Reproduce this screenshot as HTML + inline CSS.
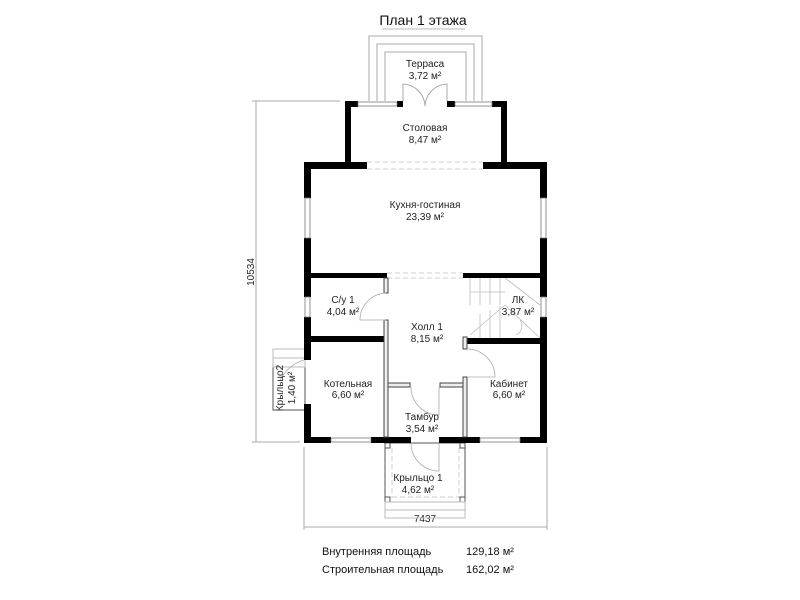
<!DOCTYPE html>
<html><head><meta charset="utf-8"><style>
html,body{margin:0;padding:0;background:#fff;}
svg{display:block;font-family:"Liberation Sans","DejaVu Sans",sans-serif;}
</style></head><body>
<svg width="800" height="600" viewBox="0 0 800 600" xmlns="http://www.w3.org/2000/svg">
<rect width="800" height="600" fill="#fff"/>
<!-- title -->
<text x="423" y="25" font-size="14" text-anchor="middle" fill="#111">План 1 этажа</text>
<line x1="382" y1="29" x2="465" y2="29" stroke="#bbb" stroke-width="1"/>

<!-- terrace -->
<g fill="none" stroke="#aaa" stroke-width="1">
<polyline points="369,101 369,36 482,36 482,101"/>
<polyline points="377,101 377,44 474,44 474,101"/>
<polyline points="385,101 385,52 466,52 466,101"/>
<path d="M403,101 L403,84 A23,23 0 0 1 425,106"/>
<path d="M447,101 L447,84 A23,23 0 0 0 425,106"/>
</g>
<!-- dimension lines -->
<g stroke="#aaa" stroke-width="1" fill="none">
<line x1="256" y1="101" x2="256" y2="442"/>
<line x1="252" y1="101" x2="340" y2="101"/>
<line x1="252" y1="442" x2="300" y2="442"/>
<line x1="304" y1="527" x2="547" y2="527"/>
<line x1="304" y1="447" x2="304" y2="530"/>
<line x1="547" y1="447" x2="547" y2="530"/>
</g>
<text x="254" y="272" font-size="10" fill="#222" text-anchor="middle" transform="rotate(-90 254 272)">10534</text>
<text x="425" y="522" font-size="10" fill="#222" text-anchor="middle">7437</text>

<!-- stairs -->
<g stroke="#bbb" stroke-width="0.8" fill="none">
<line x1="470" y1="278" x2="470" y2="305"/>
<line x1="480" y1="278" x2="480" y2="305"/>
<line x1="490" y1="278" x2="490" y2="305"/>
<line x1="500" y1="278" x2="500" y2="305"/>
<line x1="470" y1="292" x2="505" y2="292"/>
<line x1="505" y1="278" x2="540" y2="305"/>
<line x1="505" y1="305" x2="470" y2="335"/>
<line x1="480" y1="314" x2="480" y2="338"/>
<line x1="490" y1="310" x2="490" y2="338"/>
<line x1="500" y1="306" x2="500" y2="338"/>
<line x1="505" y1="305" x2="540" y2="338"/>
<path d="M520,320 A10,10 0 0 1 516,335"/>
</g>

<!-- dashed openings -->
<g stroke="#ccc" stroke-width="1" stroke-dasharray="5,3" fill="none">
<line x1="367" y1="162" x2="483" y2="162"/>
<line x1="367" y1="169" x2="483" y2="169"/>
<line x1="387" y1="273" x2="463" y2="273"/>
<line x1="387" y1="278" x2="463" y2="278"/>
<line x1="392" y1="448" x2="392" y2="498"/>
<line x1="459" y1="448" x2="459" y2="498"/>
<line x1="392" y1="497" x2="459" y2="497"/>
</g>

<!-- porch 1 -->
<g stroke="#555" stroke-width="1" fill="none">
<rect x="385" y="443" width="80" height="59"/>
<rect x="385" y="443" width="5" height="5"/>
<rect x="460" y="443" width="5" height="5"/>
<rect x="385" y="497" width="5" height="5"/>
<rect x="460" y="497" width="5" height="5"/>
</g>
<g stroke="#bbb" stroke-width="1" fill="none">
<rect x="385" y="502" width="80" height="8"/>
<rect x="385" y="510" width="80" height="8"/>
</g>
<!-- porch 2 -->
<rect x="273" y="367" width="32" height="43" fill="#fff" stroke="#555" stroke-width="1"/>
<g stroke="#bbb" stroke-width="1" fill="none">
<rect x="273" y="349" width="32" height="9"/>
<rect x="273" y="358" width="32" height="9"/>
</g>

<!-- walls -->
<g fill="#000">
<!-- dining -->
<rect x="345" y="101" width="6" height="66"/>
<rect x="501" y="101" width="6" height="66"/>
<rect x="345" y="101" width="13" height="6"/>
<rect x="397" y="101" width="6" height="6"/>
<rect x="447" y="101" width="8" height="6"/>
<rect x="492" y="101" width="15" height="6"/>
<!-- kitchen top -->
<rect x="304" y="162" width="63" height="7"/>
<rect x="483" y="162" width="64" height="7"/>
<!-- left outer -->
<rect x="304" y="162" width="7" height="36"/>
<rect x="304" y="238" width="7" height="59"/>
<rect x="304" y="317" width="7" height="43"/>
<rect x="304" y="404" width="7" height="39"/>
<!-- right outer -->
<rect x="540" y="162" width="7" height="36"/>
<rect x="540" y="238" width="7" height="59"/>
<rect x="540" y="317" width="7" height="126"/>
<!-- kitchen bottom -->
<rect x="304" y="273" width="83" height="5"/>
<rect x="463" y="273" width="84" height="5"/>
<!-- С/у bottom -->
<rect x="304" y="336" width="83" height="6"/>
<rect x="466" y="338" width="81" height="6"/>
<!-- bottom outer -->
<rect x="304" y="437" width="27" height="6"/>
<rect x="371" y="437" width="40" height="6"/>
<rect x="439" y="437" width="41" height="6"/>
<rect x="520" y="437" width="27" height="6"/>
</g>
<!-- windows -->
<g fill="#fff" stroke="#777" stroke-width="0.8">
<rect x="358" y="102" width="39" height="4"/>
<rect x="455" y="102" width="37" height="4"/>
<rect x="305" y="198" width="5" height="40"/>
<rect x="541" y="198" width="5" height="40"/>
<rect x="305" y="297" width="5" height="20"/>
<rect x="541" y="297" width="5" height="20"/>
<rect x="331" y="438" width="40" height="4"/>
<rect x="480" y="438" width="40" height="4"/>
</g>
<!-- partitions (hatched thin) -->
<g fill="#eee" stroke="#444" stroke-width="1">
<rect x="384" y="278" width="4" height="15"/>
<rect x="384" y="320" width="4" height="117"/>
<rect x="463" y="337" width="4" height="12"/>
<rect x="463" y="377" width="4" height="60"/>
<rect x="388" y="383" width="22" height="4"/>
<rect x="440" y="383" width="23" height="4"/>
</g>
<!-- door arcs -->
<g stroke="#aaa" stroke-width="0.8" fill="none">
<path d="M386,293 A27,27 0 0 0 360,320 L386,320"/>
<path d="M467,349 A28,28 0 0 1 495,377 L467,377"/>
<path d="M411,387 A28,28 0 0 0 439,415 L439,387"/>
<path d="M411,443 A28,28 0 0 0 439,471 L439,443"/>
<path d="M304,360 A40,40 0 0 0 280,380"/>
</g>

<!-- labels -->
<g font-size="10" fill="#222" text-anchor="middle">
<text x="425" y="67">Терраса</text><text x="425" y="79">3,72 м²</text>
<text x="425" y="131">Столовая</text><text x="425" y="143">8,47 м²</text>
<text x="425" y="208">Кухня-гостиная</text><text x="425" y="220">23,39 м²</text>
<text x="343" y="303">С/у 1</text><text x="343" y="315">4,04 м²</text>
<text x="518" y="303">ЛК</text><text x="518" y="315">3,87 м²</text>
<text x="427" y="330">Холл 1</text><text x="427" y="342">8,15 м²</text>
<text x="348" y="387">Котельная</text><text x="348" y="398">6,60 м²</text>
<text x="509" y="387">Кабинет</text><text x="509" y="398">6,60 м²</text>
<text x="422" y="420">Тамбур</text><text x="422" y="432">3,54 м²</text>
<text x="418" y="481">Крыльцо 1</text><text x="418" y="493">4,62 м²</text>
<text x="283" y="388" transform="rotate(-90 283 388)">Крыльцо2</text>
<text x="295" y="388" transform="rotate(-90 295 388)">1,40 м²</text>
</g>
<g font-size="11" fill="#111">
<text x="322" y="555">Внутренняя площадь</text><text x="466" y="555">129,18 м²</text>
<text x="322" y="573">Строительная площадь</text><text x="466" y="573">162,02 м²</text>
</g>
</svg>
</body></html>
